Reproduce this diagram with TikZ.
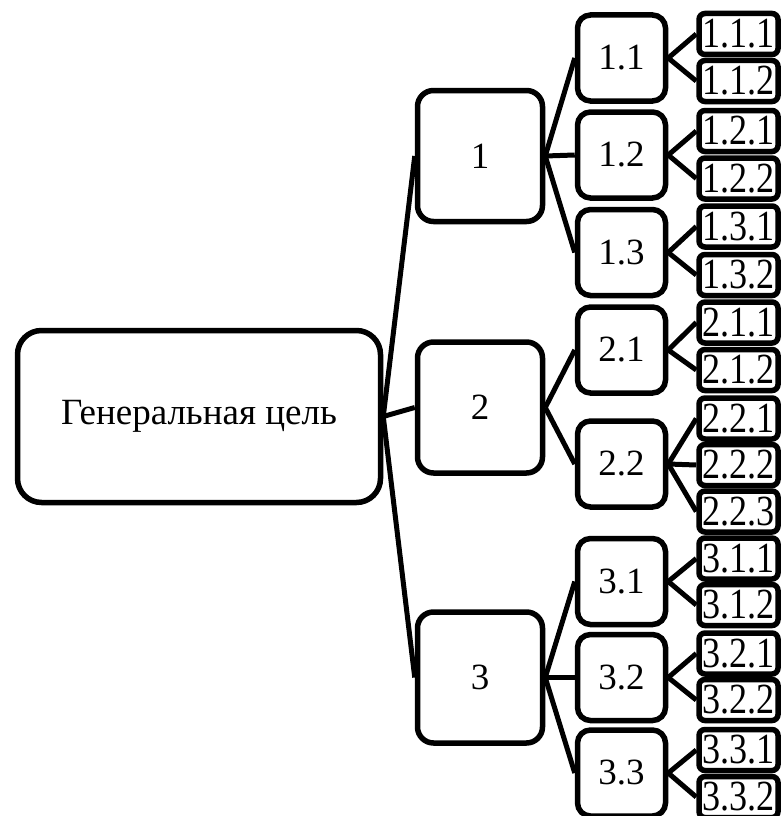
\documentclass[tikz,border=0pt]{standalone}
\usepackage{fontspec}
\setmainfont{Liberation Serif}
\newfontfamily\narrowserif[FakeStretch=0.84]{Liberation Serif}
\begin{document}
\begin{tikzpicture}[x=1pt,y=-1pt,
  bx/.style={draw=black, line width=5.5pt, fill=white, inner sep=0pt, align=center},
  rootbox/.style={bx, rounded corners=24pt, minimum width=363pt, minimum height=172pt, font=\fontsize{37}{40}\selectfont},
  lone/.style={bx, rounded corners=16pt, minimum width=125pt, minimum height=131pt, font=\fontsize{37}{40}\selectfont},
  ltwo/.style={bx, rounded corners=13pt, minimum width=88pt, minimum height=86pt, font=\fontsize{37}{40}\selectfont},
  lthree/.style={bx, rounded corners=6pt, minimum width=79pt, minimum height=41pt, font=\narrowserif\fontsize{43}{43}\selectfont},
  link/.style={line width=5pt}]
\useasboundingbox (0,0) rectangle (782,816);
\clip (0,0) rectangle (782,816);

\node[rootbox] (r) at (199,416.5) {Генеральная цель};

\node[lone] (a1) at (480,156) {1};
\node[lone] (a2) at (480,407.5) {2};
\node[lone] (a3) at (480,677.5) {3};

\node[ltwo] (b11) at (621.5,58) {1.1};
\node[ltwo] (b12) at (621.5,155) {1.2};
\node[ltwo] (b13) at (621.5,252.5) {1.3};
\node[ltwo] (b21) at (621.5,350) {2.1};
\node[ltwo] (b22) at (621.5,464) {2.2};
\node[ltwo] (b31) at (621.5,581.5) {3.1};
\node[ltwo] (b32) at (621.5,677.5) {3.2};
\node[ltwo] (b33) at (621.5,773) {3.3};

\node[lthree] (c111) at (738.5,34) {1.1.1};
\node[lthree] (c112) at (738.5,81) {1.1.2};
\node[lthree] (c121) at (738.5,131) {1.2.1};
\node[lthree] (c122) at (738.5,178.5) {1.2.2};
\node[lthree] (c131) at (738.5,226.5) {1.3.1};
\node[lthree] (c132) at (738.5,275) {1.3.2};
\node[lthree] (c211) at (738.5,322.5) {2.1.1};
\node[lthree] (c212) at (738.5,370) {2.1.2};
\node[lthree] (c221) at (738.5,418.5) {2.2.1};
\node[lthree] (c222) at (738.5,465) {2.2.2};
\node[lthree] (c223) at (738.5,511.5) {2.2.3};
\node[lthree] (c311) at (738.5,558.5) {3.1.1};
\node[lthree] (c312) at (738.5,605) {3.1.2};
\node[lthree] (c321) at (738.5,653.5) {3.2.1};
\node[lthree] (c322) at (738.5,700) {3.2.2};
\node[lthree] (c331) at (738.5,750) {3.3.1};
\node[lthree] (c332) at (738.5,797) {3.3.2};

\foreach \t in {a1,a2,a3} \draw[link] (r.east) -- (\t.west);
\foreach \t in {b11,b12,b13} \draw[link] (a1.east) -- (\t.west);
\foreach \t in {b21,b22} \draw[link] (a2.east) -- (\t.west);
\foreach \t in {b31,b32,b33} \draw[link] (a3.east) -- (\t.west);
\foreach \t in {c111,c112} \draw[link] (b11.east) -- (\t.west);
\foreach \t in {c121,c122} \draw[link] (b12.east) -- (\t.west);
\foreach \t in {c131,c132} \draw[link] (b13.east) -- (\t.west);
\foreach \t in {c211,c212} \draw[link] (b21.east) -- (\t.west);
\foreach \t in {c221,c222,c223} \draw[link] (b22.east) -- (\t.west);
\foreach \t in {c311,c312} \draw[link] (b31.east) -- (\t.west);
\foreach \t in {c321,c322} \draw[link] (b32.east) -- (\t.west);
\foreach \t in {c331,c332} \draw[link] (b33.east) -- (\t.west);
\end{tikzpicture}
\end{document}
